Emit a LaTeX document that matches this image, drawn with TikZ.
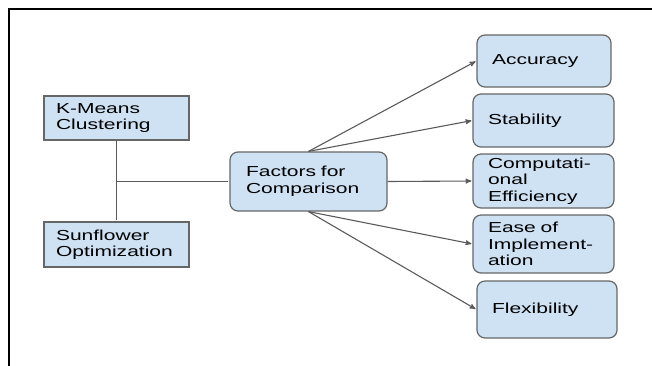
\documentclass[tikz,border=0pt]{standalone}
\usepackage{fontspec}
\setmainfont{Liberation Sans}[FakeStretch=1.45]
\usetikzlibrary{arrows,calc,positioning}

\definecolor{boxfill}{HTML}{CFE2F3}
\definecolor{boxline}{HTML}{666666}
\definecolor{wirecol}{HTML}{5A5A5A}

\begin{document}
\begin{tikzpicture}[x=1pt,y=-1pt,>=stealth',shorten >=1pt,
	sqbox/.style={draw=boxline,fill=boxfill,line width=1.2pt,align=left,inner xsep=12pt,inner ysep=2pt,
		font=\fontsize{14.5}{16.5}\selectfont},
	factor/.style={sqbox,rounded corners=8pt,inner xsep=15pt},
	wire/.style={color=wirecol,line width=1.1pt}]
		\useasboundingbox (0,0) rectangle (652,365);
		\draw[line width=2pt,line cap=rect] (9,365) -- (9,9) -- (652,9);
		% methods
		\node[sqbox,text width=121pt,minimum height=44pt] (kmeans) at (116.5,118) {K-Means\\Clustering};
		\node[sqbox,text width=121pt,minimum height=45pt] (sfo) at (116.5,244.5) {Sunflower\\Optimization};
		\node[factor,inner xsep=16pt,text width=125pt,minimum height=59pt] (fac) at (308.5,181.5) {Factors for\\Comparison};
		% factors
		\node[factor,text width=104pt,minimum height=52pt] (acc) at (544,61) {Accuracy};
		\node[factor,text width=111pt,minimum height=53pt] (stab) at (543.5,120.5) {Stability};
		\node[factor,text width=111pt,minimum height=54pt] (comp) at (543.5,181) {Computati-\\onal\\Efficiency};
		\node[factor,text width=111pt,minimum height=58pt] (ease) at (543.5,244) {Ease of\\Implement-\\ation};
		\node[factor,text width=110pt,minimum height=57pt] (flex) at (547,309.5) {Flexibility};
		\coordinate (join) at (kmeans.south |- fac.west);
		\draw[wire] (kmeans) -- (sfo);
		\draw[wire] (join) -- (fac);
		\path[wire,->]
			(fac.north) edge (acc.west)
			(fac.north) edge (stab.west)
			(fac.east) edge (comp.west)
			(fac.south) edge (ease.west)
			(fac.south) edge (flex.west);
	\end{tikzpicture}
\end{document}
